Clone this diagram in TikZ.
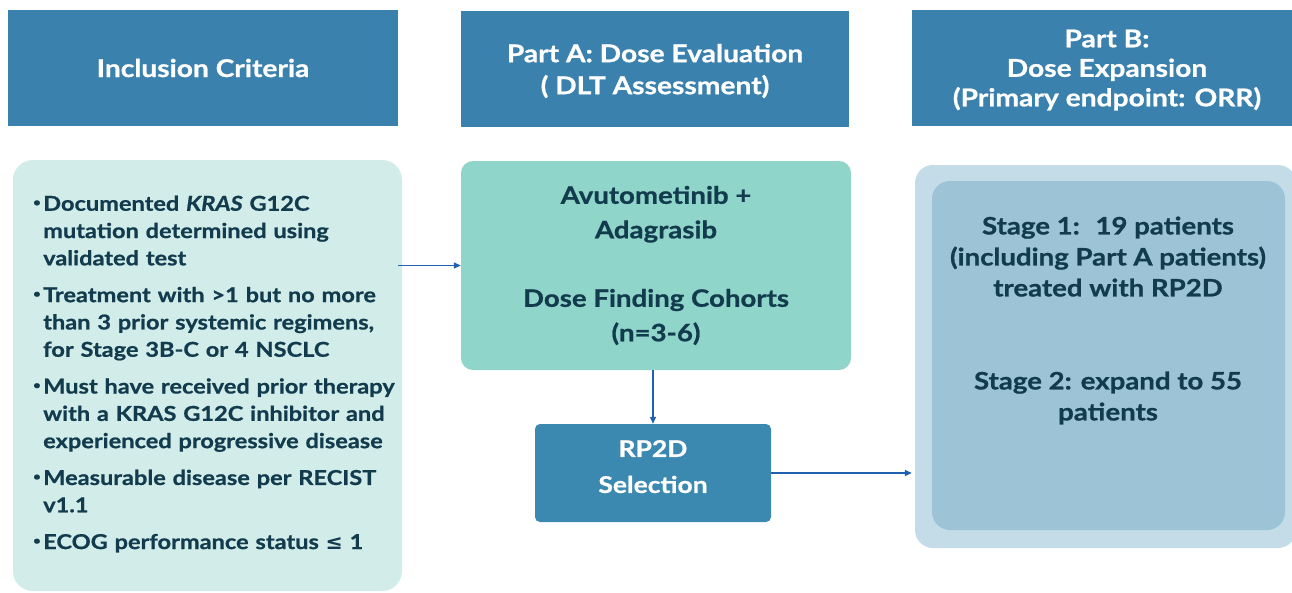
\documentclass[tikz,border=0pt]{standalone}
\usepackage{fontspec}
\setmainfont{Lato}[
  BoldFeatures={FakeStretch=1.15,FakeBold=0.8},
  BoldItalicFeatures={FakeStretch=1.15,FakeBold=0.8}]
\newfontfamily\symfont{DejaVu Sans}
\usetikzlibrary{arrows.meta}

\definecolor{hdrblue}{HTML}{3A81AD}
\definecolor{selblue}{HTML}{3B88B0}
\definecolor{mintlight}{HTML}{D2EDE9}
\definecolor{mint}{HTML}{8FD5C9}
\definecolor{skyouter}{HTML}{C4DCE8}
\definecolor{skyinner}{HTML}{9DC3D7}
\definecolor{ink}{HTML}{123B4E}
\definecolor{arrowblue}{HTML}{2060B0}

\newcommand\bul{\makebox[10pt][l]{\raisebox{0.22em}{\scalebox{0.55}{\textbullet}}}}
\newcommand\ind{\hspace*{10pt}}

\tikzset{
  header/.style={fill=hdrblue, draw=none, inner sep=0pt},
  hdrtext/.style={text=white, align=center, inner sep=0pt},
  critbox/.style={fill=mintlight, draw=none, rounded corners=20pt, inner sep=0pt},
  crittext/.style={text=ink, align=left, text width=380pt, inner sep=0pt,
    font=\bfseries\fontsize{20.5}{27.3}\selectfont},
  armbox/.style={fill=mint, draw=none, rounded corners=12pt, text=ink, align=center,
    font=\bfseries\fontsize{24}{34.5}\selectfont, inner sep=0pt},
  selbox/.style={fill=selblue, draw=none, rounded corners=5pt, inner sep=0pt},
  seltext/.style={text=white, align=center, inner sep=0pt,
    font=\bfseries\fontsize{23}{36}\selectfont},
  outerbox/.style={fill=skyouter, draw=none, rounded corners=18pt, inner sep=0pt},
  innerbox/.style={fill=skyinner, draw=none, rounded corners=18pt, inner sep=0pt},
  stagetext/.style={text=ink, align=center, inner sep=0pt,
    font=\bfseries\fontsize{24}{31}\selectfont},
  flow/.style={draw=arrowblue, line width=1.3pt, -{Triangle[length=7pt,width=6pt]}}
}

\begin{document}
\begin{tikzpicture}[x=1pt,y=-1pt]
\useasboundingbox (0,0) rectangle (1292,592);
\fill[white] (0,0) rectangle (1292,592);

% column headers
\node[header, minimum width=390, minimum height=116] (h1) at (203,68) {};
\node[hdrtext, font=\bfseries\fontsize{24.5}{30}\selectfont] (h1t) at (h1.center) {Inclusion Criteria};
\node[header, minimum width=388, minimum height=116] (h2) at (655,68.5) {};
\node[hdrtext, font=\bfseries\fontsize{24.5}{32}\selectfont] (h2t) at (655,71) {Part A: Dose Evaluation\\( DLT Assessment)};
\node[header, minimum width=390, minimum height=116] (h3) at (1107,67.5) {};
\node[hdrtext, font=\bfseries\fontsize{24.5}{29.5}\selectfont] (h3t) at (1107,70) {Part B:\\Dose Expansion\\(Primary endpoint: ORR)};

% inclusion criteria
\node[critbox, minimum width=389, minimum height=431] (crit) at (207.5,375.5) {};
\node[crittext, anchor=west] (critt) at (33,374) {%
\bul Documented \textit{KRAS} G12C\\
\ind mutation determined using\\
\ind validated test\\[9.5pt]
\bul Treatment with >1 but no more\\
\ind than 3 prior systemic regimens,\\
\ind for Stage 3B-C or 4 NSCLC\\[9.5pt]
\bul Must have received prior therapy\\
\ind with a KRAS G12C inhibitor and\\
\ind experienced progressive disease\\[9.5pt]
\bul Measurable disease per RECIST\\
\ind v1.1\\[9.5pt]
\bul ECOG performance status {\symfont\bfseries ≤} 1};

% part A
\node[armbox, minimum width=390, minimum height=209] (arm) at (656,265.5) {Avutometinib +\\Adagrasib\\[34pt]Dose Finding Cohorts\\(n=3-6)};
\node[selbox, minimum width=236, minimum height=98] (sel) at (653,473) {};
\node[seltext] (selt) at (653,466.6) {RP2D\\Selection};

% part B
\node[outerbox, minimum width=381, minimum height=383] (outer) at (1105.5,356.5) {};
\node[innerbox, minimum width=353, minimum height=349] (inner) at (1108.5,355.5) {};
\node[stagetext] (innert) at (1108,320.5) {Stage 1:~ 19 patients\\(including Part A patients)\\treated with RP2D\\[62pt]Stage 2: expand to 55\\patients};

% flow
\draw[flow] (crit.east |- arm.west) ++(-4,0) -- (arm.west);
\draw[flow] (arm.south -| sel.north) -- (sel.north);
\draw[flow, shorten >=3pt] (sel.east) -- (outer.west |- sel.east);
\end{tikzpicture}
\end{document}
